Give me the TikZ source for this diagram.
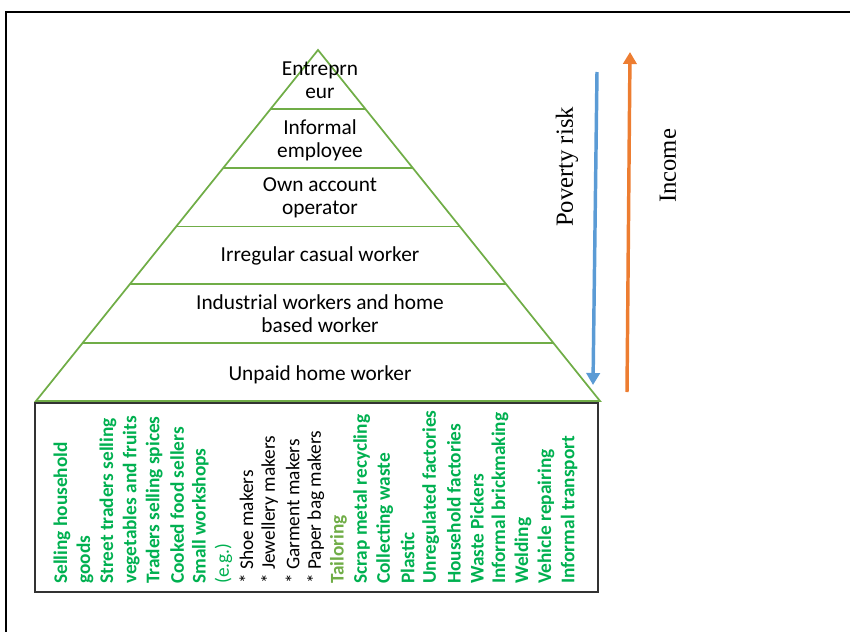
\documentclass[tikz,border=0pt]{standalone}
\usepackage{fontspec}
\setmainfont{Liberation Serif}
\newfontfamily\calfont{Carlito}
\usetikzlibrary{arrows.meta,calc}
\definecolor{pyr}{HTML}{70AD47}
\definecolor{grn}{HTML}{00B050}
\definecolor{blu}{HTML}{5B9BD5}
\definecolor{org}{HTML}{ED7D31}
\begin{document}
\begin{tikzpicture}[x=0.75pt,y=-0.75pt,
  pyrline/.style={draw=pyr,line width=1.3pt},
  lvl/.style={font=\calfont\fontsize{16}{17.5}\selectfont,align=center,inner sep=0pt},
  col/.style={rotate=90,anchor=west,inner sep=0pt},
  gb/.style={col,font=\calfont\bfseries\fontsize{14.5}{15}\selectfont,text=grn},
  gr/.style={col,font=\calfont\fontsize{14.5}{15}\selectfont,text=grn},
  bk/.style={col,font=\calfont\fontsize{14.5}{15}\selectfont,text=black},
  tl/.style={col,font=\calfont\bfseries\fontsize{14.5}{15}\selectfont,text=pyr},
  side/.style={rotate=90,font=\fontsize{18.5}{20}\selectfont},
  riskarrow/.style={line width=2.6pt,-{Triangle[width=10pt,length=9pt]}}
]
\useasboundingbox (0,0) rectangle (850,632);
% frame
\draw[line width=1.4pt] (6,632) -- (6,12) -- (850,12);
% list box
\draw[line width=0.8pt,draw=black!80] (35,403) rectangle (598,592);
% pyramid
\coordinate (apex) at (318,50);
\coordinate (bl) at (36,401);
\coordinate (br) at (600,401);
\draw[pyrline] (apex) -- (bl) -- (br) -- cycle;
\foreach \t in {0.1676,0.3352,0.5028,0.6676,0.8352}
  \draw[pyrline] ($(apex)!\t!(bl)$) -- ($(apex)!\t!(br)$);
% level labels
\node[lvl] (l1) at (320,80) {Entreprn\\eur};
\node[lvl] (l2) at (320,140) {Informal\\employee};
\node[lvl] (l3) at (320,198) {Own account\\operator};
\node[lvl] (l4) at (320,256) {Irregular casual worker};
\node[lvl] (l5) at (320,314) {Industrial workers and home\\based worker};
\node[lvl] (l6) at (320,375) {Unpaid home worker};
% column texts
\foreach \i/\s/\txt in {
  0/gb/Selling household,
  1/gb/goods,
  2/gb/Street traders selling,
  3/gb/vegetables and fruits,
  4/gb/Traders selling spices,
  5/gb/Cooked food sellers,
  6/gb/Small workshops,
  7/gr/(e.g.),
  8/bk/* Shoe makers,
  9/bk/* Jewellery makers,
  10/bk/* Garment makers,
  11/bk/* Paper bag makers,
  12/tl/Tailoring,
  13/gb/Scrap metal recycling,
  14/gb/Collecting waste,
  15/gb/Plastic,
  16/gb/Unregulated factories,
  17/gb/Household factories,
  18/gb/Waste Pickers,
  19/gb/Informal brickmaking,
  20/gb/Welding,
  21/gb/Vehicle repairing,
  22/gb/Informal transport}
  \node[\s] (c\i) at ({62+23.05*\i},584) {\txt};
% side arrows and labels
\coordinate (pa) at (597,72);
\coordinate (pb) at (593,385);
\coordinate (ia) at (627,392);
\coordinate (ib) at (630,52);
\draw[riskarrow,blu] (pa) -- (pb);
\draw[riskarrow,org] (ia) -- (ib);
\node[side] (pov) at (567,167) {Poverty risk};
\node[side] (inc) at (668,166) {Income};
\end{tikzpicture}
\end{document}
